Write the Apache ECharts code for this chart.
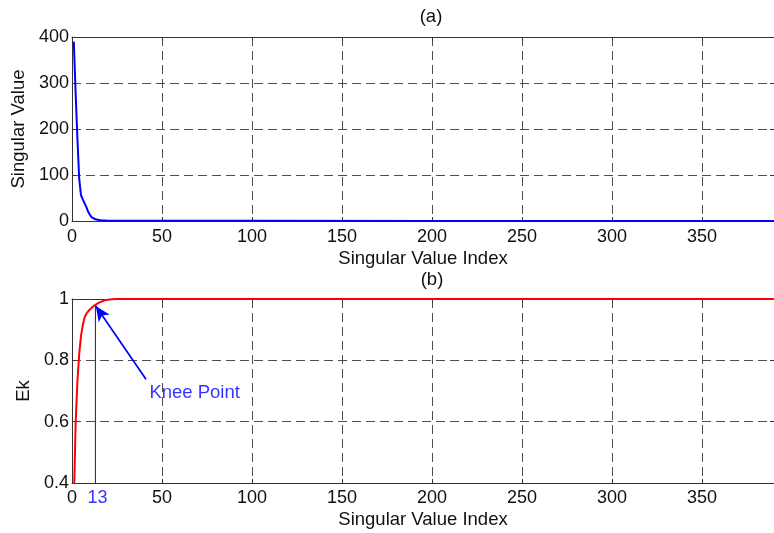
<!DOCTYPE html>
<html>
<head>
<meta charset="utf-8">
<script src="https://cdn.jsdelivr.net/npm/echarts@6/dist/echarts.min.js"></script>
<style>
html,body{margin:0;padding:0;background:#fff;}
#c{width:774px;height:533px;}
</style>
</head>
<body>
<div id="c"></div>
<script>
// ---- data ----
const svIndex  = [1,2,3,4,5,6,7,8,9,10,11,12,13,14,15,16,17,18,19,20,25,30,50,100,200,300,390];
const svValues = [390,280,180,92,56,47,44,30,20,13,8,5.5,3.8,2.8,2.1,1.6,1.3,1.1,0.9,0.8,0.6,0.5,0.4,0.3,0.2,0.1,0];
const ekIndex  = [1,2,3,4,5,6,7,8,9,10,11,12,13,14,15,16,17,18,19,20,22,25,30,390];
const ekValues = [0.33,0.59,0.73,0.82,0.88,0.915,0.94,0.952,0.96,0.966,0.972,0.977,0.981,0.985,0.988,0.991,0.993,0.995,0.997,0.998,0.999,1,1,1];
const kneeIndex = 13;
const kneeEk = 0.981;
const kneeLabel = 'Knee Point';
const arrowTail = [41.1, 0.738];
const labelAnchor = [43.0, 0.693];
const titles = ['(a)', '(b)'];

const FONT = "'Liberation Sans', Arial, sans-serif";
const TXT = '#111';
const AX = '#333';
const FS = 18;
const NFS = 18.5;

const chart = echarts.init(document.getElementById('c'), null, {renderer: 'canvas'});

const grids = [
  {left: 72, top: 37, width: 707, height: 184},
  {left: 72, top: 299, width: 707, height: 184}
];

function xMain(gi, nameGap, margin) {
  return {
    type: 'value', gridIndex: gi, min: 0, max: 390, interval: 50,
    name: 'Singular Value Index', nameLocation: 'middle', nameGap: nameGap,
    nameTextStyle: {fontFamily: FONT, fontSize: NFS, color: TXT},
    axisLine: {show: true, onZero: false, lineStyle: {color: AX, width: 1}},
    axisTick: {show: true, inside: true, length: 4, lineStyle: {color: AX}},
    axisLabel: {fontFamily: FONT, fontSize: FS, color: TXT, margin: margin, showMaxLabel: false},
    splitLine: {show: true, lineStyle: {color: '#3a3a3a', width: 0.9, type: [9, 5]}}
  };
}
function xTop(gi) {
  return {
    type: 'value', gridIndex: gi, min: 0, max: 390, interval: 50, position: 'top',
    axisLine: {show: true, onZero: false, lineStyle: {color: AX, width: 1}},
    axisTick: {show: true, inside: true, length: 4, lineStyle: {color: AX}},
    axisLabel: {show: false}, splitLine: {show: false}
  };
}
function yRight(gi, min, max, interval) {
  return {
    type: 'value', gridIndex: gi, min: min, max: max, interval: interval, position: 'right',
    axisLine: {show: true, onZero: false, lineStyle: {color: AX, width: 1}},
    axisTick: {show: true, inside: true, length: 4, lineStyle: {color: AX}},
    axisLabel: {show: false}, splitLine: {show: false}
  };
}

const option = {
  animation: false,
  backgroundColor: '#fff',
  textStyle: {fontFamily: FONT},
  title: [
    {text: titles[0], left: 426, top: 2, textAlign: 'center',
     textStyle: {fontFamily: FONT, fontSize: NFS, fontWeight: 'normal', color: TXT}},
    {text: titles[1], left: 427, top: 265, textAlign: 'center',
     textStyle: {fontFamily: FONT, fontSize: NFS, fontWeight: 'normal', color: TXT}}
  ],
  grid: grids,
  xAxis: [xMain(0, 28, 7), xMain(1, 27, 6), xTop(0), xTop(1)],
  yAxis: [
    {
      type: 'value', gridIndex: 0, min: 0, max: 400, interval: 100,
      name: 'Singular Value', nameLocation: 'middle', nameGap: 40, nameRotate: 90,
      nameTextStyle: {fontFamily: FONT, fontSize: NFS, color: TXT},
      axisLine: {show: true, onZero: false, lineStyle: {color: AX, width: 1}},
      axisTick: {show: true, inside: true, length: 4, lineStyle: {color: AX}},
      axisLabel: {fontFamily: FONT, fontSize: FS, color: TXT, margin: 3},
      splitLine: {show: true, lineStyle: {color: '#3a3a3a', width: 0.9, type: [9, 5]}}
    },
    {
      type: 'value', gridIndex: 1, min: 0.4, max: 1, interval: 0.2,
      name: 'Ek', nameLocation: 'middle', nameGap: 38, nameRotate: 90,
      nameTextStyle: {fontFamily: FONT, fontSize: NFS, color: TXT},
      axisLine: {show: true, onZero: false, lineStyle: {color: AX, width: 1}},
      axisTick: {show: true, inside: true, length: 4, lineStyle: {color: AX}},
      axisLabel: {fontFamily: FONT, fontSize: FS, color: TXT, margin: 3,
        formatter: v => (Math.abs(v - 1) < 1e-9 ? '1' : v.toFixed(1))},
      splitLine: {show: true, lineStyle: {color: '#3a3a3a', width: 0.9, type: [9, 5]}}
    },
    yRight(0, 0, 400, 100),
    yRight(1, 0.4, 1, 0.2)
  ],
  series: [
    {
      type: 'line', xAxisIndex: 0, yAxisIndex: 0, symbol: 'none', clip: true,
      data: svIndex.map((x, i) => [x, svValues[i]]),
      lineStyle: {color: '#0000ff', width: 2}, z: 5
    },
    {
      type: 'line', xAxisIndex: 1, yAxisIndex: 1, symbol: 'none', clip: true,
      data: [[kneeIndex, 0.4], [kneeIndex, kneeEk]],
      lineStyle: {color: '#222', width: 1}, z: 4
    },
    {
      type: 'line', xAxisIndex: 1, yAxisIndex: 1, symbol: 'none', clip: true,
      data: ekIndex.map((x, i) => [x, ekValues[i]]),
      lineStyle: {color: '#ff0000', width: 2}, z: 5,
      markLine: {
        silent: true, symbol: ['none', 'arrow'], symbolSize: [10, 15],
        lineStyle: {color: '#0000ff', width: 1.7, type: 'solid'},
        label: {show: false},
        data: [[{coord: arrowTail}, {coord: [kneeIndex + 0.2, kneeEk - 0.004]}]]
      }
    },
    {
      type: 'scatter', xAxisIndex: 1, yAxisIndex: 1, symbolSize: 0, clip: false,
      data: [[kneeIndex, 0.4]],
      label: {show: true, position: 'bottom', distance: 6, offset: [2, 0], formatter: String(kneeIndex),
        fontFamily: FONT, fontSize: FS, color: '#0000ff'}
    },
    {
      type: 'scatter', xAxisIndex: 1, yAxisIndex: 1, symbolSize: 0, clip: false,
      data: [labelAnchor],
      label: {show: true, position: 'right', distance: 0, formatter: kneeLabel,
        fontFamily: FONT, fontSize: NFS, color: '#0000ff'}
    }
  ]
};
chart.setOption(option);
</script>
</body>
</html>
